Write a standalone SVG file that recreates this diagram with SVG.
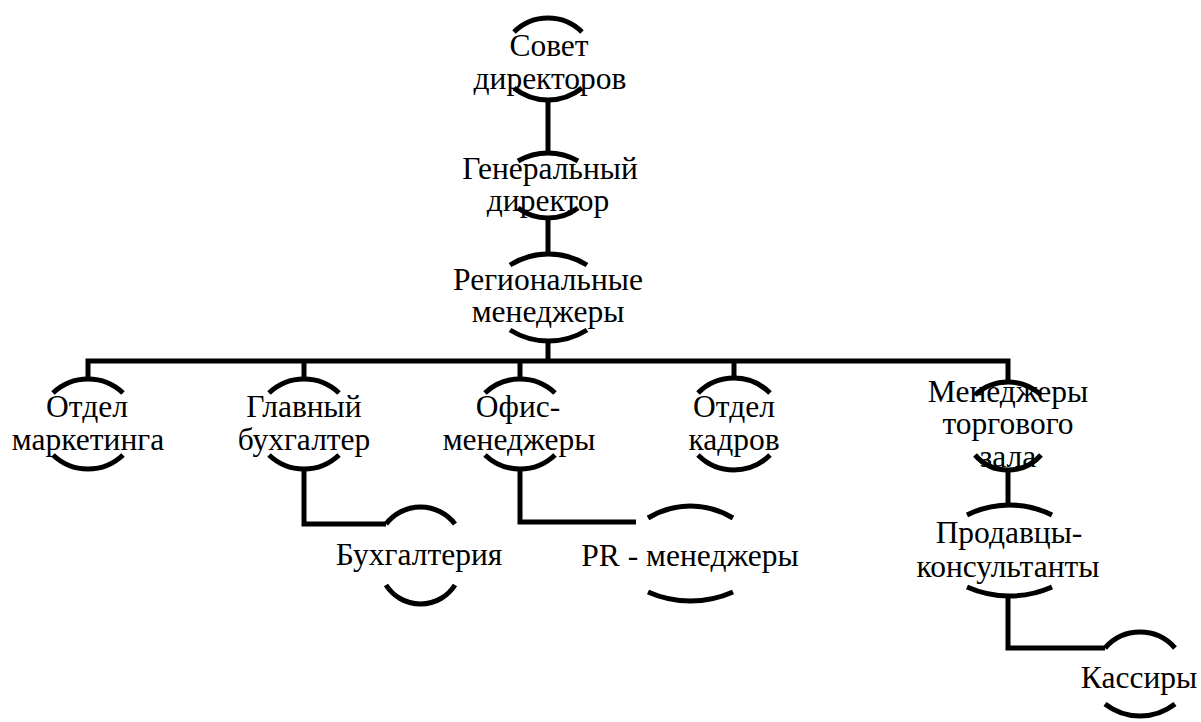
<svg xmlns="http://www.w3.org/2000/svg" width="1201" height="722" viewBox="0 0 1201 722">
<style>
  .a{fill:none;stroke:#000;stroke-width:5}
  .c{fill:none;stroke:#000;stroke-width:5;stroke-linejoin:miter}
</style>
<rect width="1201" height="722" fill="#fff"/>
<g id="connectors">
  <path class="c" d="M548 100 V153"/>
  <path class="c" d="M548 218 V254"/>
  <path class="c" d="M548 341 V361"/>
  <path class="c" d="M88 380 V361 H1008 V382"/>
  <path class="c" d="M304 361 V380"/>
  <path class="c" d="M520 361 V380"/>
  <path class="c" d="M734 361 V380"/>
  <path class="c" d="M304 470 V524 H386"/>
  <path class="c" d="M520 469 V522 H636"/>
  <path class="c" d="M1008 470 V505"/>
  <path class="c" d="M1008 596 V648 H1105"/>
</g>
<g id="nodes" font-size="31.5" fill="#000" text-anchor="middle">
<g id="n1">
  <text x="549" y="56" font-family="Liberation Serif">Совет</text>
  <text x="550" y="89" font-family="Liberation Serif">директоров</text>
  <path class="a" d="M514 32 A48.3 48.3 0 0 1 582 32"/>
  <path class="a" d="M514 88 A54.2 54.2 0 0 0 582 88"/>
</g>
<g id="n2">
  <text x="550" y="179" font-family="Liberation Serif">Генеральный</text>
  <text x="548" y="211" font-family="Liberation Serif">директор</text>
  <path class="a" d="M518 161 A60.25 60.25 0 0 1 578 161"/>
  <path class="a" d="M518 208 A50 50 0 0 0 578 208"/>
</g>
<g id="n3">
  <text x="548" y="290" font-family="Liberation Serif">Региональные</text>
  <text x="548" y="322" font-family="Liberation Serif">менеджеры</text>
  <path class="a" d="M510 265 A72.9 72.9 0 0 1 587 265"/>
  <path class="a" d="M510 330 A72.9 72.9 0 0 0 587 330"/>
</g>
<g id="n4">
  <text x="87" y="417" font-family="Liberation Serif">Отдел</text>
  <text x="88" y="450" font-family="Liberation Serif">маркетинга</text>
  <path class="a" d="M53 393 A50.75 50.75 0 0 1 123 393"/>
  <path class="a" d="M53 455 A50.75 50.75 0 0 0 123 455"/>
</g>
<g id="n5">
  <text x="304" y="417" font-family="Liberation Serif">Главный</text>
  <text x="304" y="450" font-family="Liberation Serif">бухгалтер</text>
  <path class="a" d="M269 393 A50.75 50.75 0 0 1 339 393"/>
  <path class="a" d="M269 455 A50.75 50.75 0 0 0 339 455"/>
</g>
<g id="n6">
  <text x="518" y="417" font-family="Liberation Serif">Офис-</text>
  <text x="519" y="450" font-family="Liberation Serif">менеджеры</text>
  <path class="a" d="M485 393 A50.75 50.75 0 0 1 555 393"/>
  <path class="a" d="M485 455 A50.75 50.75 0 0 0 555 455"/>
</g>
<g id="n7">
  <text x="734" y="417" font-family="Liberation Serif">Отдел</text>
  <text x="734" y="450" font-family="Liberation Serif">кадров</text>
  <path class="a" d="M698 393 A50.75 50.75 0 0 1 770 393"/>
  <path class="a" d="M698 455 A50.75 50.75 0 0 0 770 455"/>
</g>
<g id="n8">
  <text x="1008" y="402" font-family="Liberation Serif">Менеджеры</text>
  <text x="1008" y="434" font-family="Liberation Serif">торгового</text>
  <text x="1008" y="467" font-family="Liberation Serif">зала</text>
  <path class="a" d="M975 395 A48.4 48.4 0 0 1 1041 395"/>
  <path class="a" d="M975 455 A43.8 43.8 0 0 0 1041 455"/>
</g>
<g id="n9">
  <text x="419" y="565" font-family="Liberation Serif">Бухгалтерия</text>
  <path class="a" d="M386 524 A43.5 43.5 0 0 1 455 524"/>
  <path class="a" d="M386 585 A40.8 40.8 0 0 0 455 585"/>
</g>
<g id="n10">
  <text x="690" y="566" font-family="Liberation Serif">PR - менеджеры</text>
  <path class="a" d="M648 518 A81.25 81.25 0 0 1 733 518"/>
  <path class="a" d="M648 592 A104.8 104.8 0 0 0 733 592"/>
</g>
<g id="n11">
  <text x="1009" y="543" font-family="Liberation Serif">Продавцы-</text>
  <text x="1008" y="577" font-family="Liberation Serif">консультанты</text>
  <path class="a" d="M967 515 A95.3 95.3 0 0 1 1052 515"/>
  <path class="a" d="M967 587 A104.8 104.8 0 0 0 1052 587"/>
</g>
<g id="n12">
  <text x="1139" y="688" font-family="Liberation Serif">Кассиры</text>
  <path class="a" d="M1105 648 A46.3 46.3 0 0 1 1175 648"/>
  <path class="a" d="M1105 704 A57 57 0 0 0 1175 704"/>
</g>
</g>
</svg>
